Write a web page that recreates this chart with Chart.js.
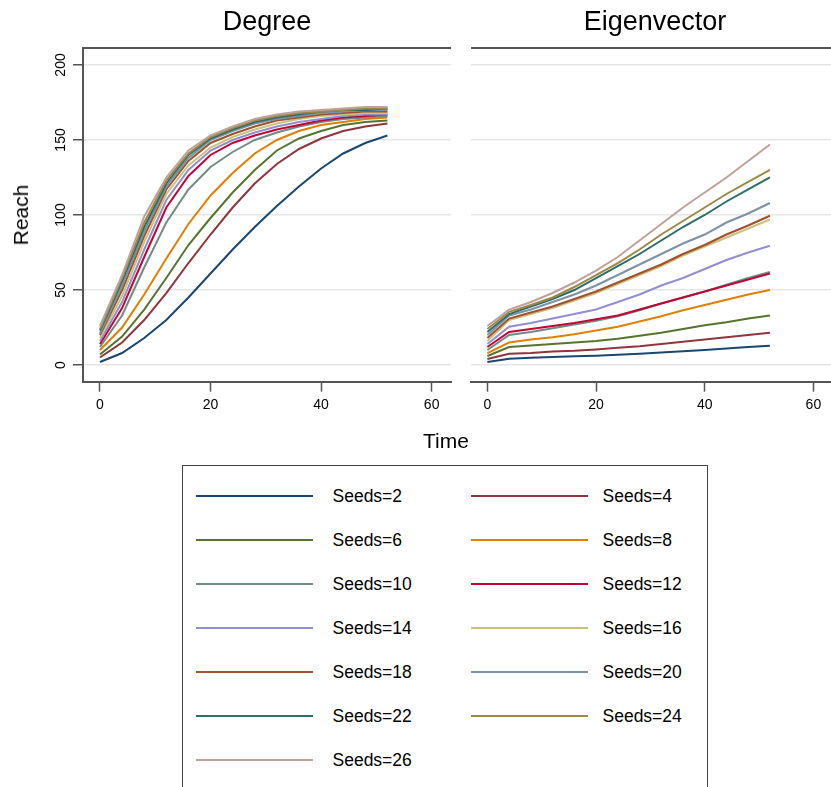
<!DOCTYPE html>
<html><head><meta charset="utf-8">
<script src="https://cdn.jsdelivr.net/npm/chart.js@4.4.0/dist/chart.umd.min.js"></script>
<style>
html,body{margin:0;padding:0;background:#fff;width:831px;height:787px;overflow:hidden;position:relative;font-family:"Liberation Sans",Arial,Helvetica,sans-serif;color:#000}
.cv{position:absolute;top:0}
.title{position:absolute;font-size:27px;line-height:27px;text-align:center;top:8px;white-space:nowrap}
.band{position:absolute;top:47px;height:2px;background:#555}
#reach{position:absolute;left:21px;top:215px;transform:translate(-50%,-50%) rotate(-90deg);font-size:21px;white-space:nowrap}
#time{position:absolute;left:446px;top:441px;transform:translate(-50%,-50%);font-size:21px}
#legend{position:absolute;left:182px;top:465px;width:526px;height:340px;border:1.5px solid #444;box-sizing:border-box;background:#fff}
.item{position:absolute;height:20px;font-size:17.5px}
.item .sw{position:absolute;top:9px;height:2px;width:117px}
.item .lb{position:absolute;top:0;line-height:20px;white-space:nowrap}
</style></head><body>
<canvas id="cL" class="cv" style="left:0" width="460" height="430"></canvas>
<canvas id="cR" class="cv" style="left:460px" width="390" height="430"></canvas>
<div class="title" style="left:83px;width:368px">Degree</div>
<div class="title" style="left:471px;width:368px">Eigenvector</div>
<div class="band" style="left:83px;width:368px"></div>
<div class="band" style="left:471px;width:368px"></div>
<div id="reach">Reach</div>
<div id="time">Time</div>
<div id="legend"></div>
<script>
const times = [0, 4, 8, 12, 16, 20, 24, 28, 32, 36, 40, 44, 48, 52];
const seeds = [2, 4, 6, 8, 10, 12, 14, 16, 18, 20, 22, 24, 26];
const xTicks = [0, 20, 40, 60];
const yTicks = [0, 50, 100, 150, 200];

// Degree panel
const deg2  = [2, 8, 18, 30, 45, 61, 77, 92, 106, 119, 131, 141, 148, 153];
const deg4  = [5, 15, 30, 48, 68, 87, 105, 121, 134, 144, 151, 156, 159, 161];
const deg6  = [7, 19, 37, 58, 80, 98, 115, 130, 143, 151, 156, 160, 162, 163];
const deg8  = [10, 25, 47, 71, 94, 113, 128, 141, 150, 156, 160, 162, 164, 165];
const deg10 = [12, 33, 65, 95, 117, 132, 142, 150, 155, 159, 162, 164, 165, 166];
const deg12 = [14, 38, 72, 105, 126, 140, 148, 153, 157, 160, 163, 165, 166, 167];
const deg14 = [16, 42, 77, 110, 130, 143, 150, 155, 159, 162, 164, 166, 167, 167];
const deg16 = [18, 46, 82, 114, 133, 145, 152, 157, 161, 164, 166, 167, 168, 168];
const deg18 = [20, 50, 86, 117, 136, 148, 154, 159, 163, 165, 167, 168, 169, 169];
const deg20 = [21, 53, 89, 119, 138, 150, 156, 161, 164, 166, 168, 169, 170, 170];
const deg22 = [23, 56, 92, 121, 140, 151, 157, 162, 165, 167, 169, 170, 170, 171];
const deg24 = [24, 58, 95, 123, 141, 152, 158, 163, 166, 168, 169, 170, 171, 171];
const deg26 = [26, 60, 99, 125, 143, 153, 159, 164, 167, 169, 170, 171, 172, 172];

// Eigenvector panel
const eig2  = [2, 4.2, 4.8, 5.3, 5.8, 6.2, 6.8, 7.5, 8.3, 9.2, 10, 11, 12, 12.8];
const eig4  = [4, 7.5, 8, 9, 9.5, 10.4, 11.5, 12.5, 14, 15.5, 17, 18.5, 20, 21.5];
const eig6  = [6, 12, 13, 14, 15, 16, 17.5, 19.5, 21.5, 24, 26.5, 28.5, 31, 33];
const eig8  = [8, 15, 17, 18.5, 20.5, 23, 25.5, 29, 32.5, 36.5, 40, 43.5, 47, 50];
const eig10 = [10, 20, 22, 24.5, 27, 29.5, 32.5, 36.5, 41, 45, 49, 53.5, 58, 62];
const eig12 = [12, 22, 24, 26, 28, 30.5, 33, 37, 41, 45, 49, 53, 57, 61];
const eig14 = [14, 25.5, 28, 31, 34, 37, 42, 47, 53, 58, 64, 70, 75, 79.5];
const eig16 = [16, 30, 34, 38, 43, 48, 54, 60, 66, 73, 79, 85, 91, 97];
const eig18 = [18, 31, 35, 39, 44, 49, 55, 61, 67, 74, 80, 87, 93, 99.5];
const eig20 = [20, 33, 37, 42, 47, 53, 60, 67, 74, 81, 87, 95, 101, 108];
const eig22 = [22, 34, 39, 44, 50, 58, 66, 74, 83, 92, 100, 109, 117, 125];
const eig24 = [24, 35.5, 40, 45, 52, 60, 68, 77, 87, 96, 105, 114, 122, 130];
const eig26 = [26, 37, 42, 48, 55, 63, 72, 83, 94, 105, 115, 125, 136, 147];

const colors = ['#1a476f', '#90353b', '#55752f', '#e37e00', '#6e8e84', '#c10534', '#938dd2',
                '#cac27e', '#a0522d', '#7b92a8', '#2d6d66', '#9c8847', '#bfa19c'];

const degreeSeries = [deg2, deg4, deg6, deg8, deg10, deg12, deg14, deg16, deg18, deg20, deg22, deg24, deg26];
const eigenSeries = [eig2, eig4, eig6, eig8, eig10, eig12, eig14, eig16, eig18, eig20, eig22, eig24, eig26];

Chart.defaults.font.family = '"Liberation Sans", Arial, Helvetica, sans-serif';
Chart.defaults.color = '#000';

function makeDatasets(series) {
  return series.map((vals, i) => ({
    label: 'Seeds=' + seeds[i],
    data: times.map((t, j) => ({ x: t, y: vals[j] })),
    borderColor: colors[i],
    backgroundColor: colors[i],
    borderWidth: 2,
    pointRadius: 0,
    tension: 0,
    fill: false,
    order: seeds.length - i
  }));
}

function makeChart(id, series, showY, pad) {
  return new Chart(document.getElementById(id), {
    type: 'line',
    data: { datasets: makeDatasets(series) },
    options: {
      responsive: false,
      animation: false,
      events: [],
      layout: { padding: pad },
      plugins: { legend: { display: false }, tooltip: { enabled: false }, title: { display: false } },
      scales: {
        x: {
          type: 'linear',
          min: -3.07,
          max: showY ? 63.5 : 66.5,
          afterBuildTicks: s => { s.ticks = xTicks.map(v => ({ value: v })); },
          afterFit: s => { s.height = 40; },
          ticks: { font: { size: 14 }, padding: 5, color: '#000', maxRotation: 0 },
          grid: { display: true, drawOnChartArea: false, drawTicks: true, tickLength: 10, tickColor: '#555', tickWidth: 1.5 },
          border: { display: true, color: '#555', width: 2 }
        },
        y: {
          type: 'linear',
          min: -11.1,
          max: 211.3,
          afterBuildTicks: s => { s.ticks = yTicks.map(v => ({ value: v })); },
          afterFit: s => { s.width = showY ? 40 : 0; },
          ticks: showY
            ? { display: true, font: { size: 14 }, padding: 0, color: '#000', minRotation: 90, maxRotation: 90, crossAlign: 'center' }
            : { display: false },
          grid: { display: true, drawOnChartArea: true, drawTicks: showY, tickLength: 10, tickColor: '#555', tickWidth: 1.5, color: '#e6e6e6', lineWidth: 1.5 },
          border: { display: showY, color: '#555', width: 2 }
        }
      }
    }
  });
}

makeChart('cL', degreeSeries, true, { left: 43, right: 9, top: 48, bottom: 8.3 });
makeChart('cR', eigenSeries, false, { left: 10.7, right: 1.3, top: 48, bottom: 8.3 });

// Legend built from the same series labels/colours
const legend = document.getElementById('legend');
const rowY = [496, 540, 584, 628, 672, 716, 760];
seeds.forEach((s, i) => {
  const col = i % 2, row = Math.floor(i / 2);
  const item = document.createElement('div');
  item.className = 'item';
  item.style.top = (rowY[row] - 10 - 466.5) + 'px';
  item.style.left = '0px';
  const sw = document.createElement('div');
  sw.className = 'sw';
  sw.style.background = colors[i];
  sw.style.left = (col === 0 ? 12.5 : 287.5) + 'px';
  const lb = document.createElement('div');
  lb.className = 'lb';
  lb.style.left = (col === 0 ? 149.5 : 419.5) + 'px';
  lb.textContent = 'Seeds=' + s;
  item.appendChild(sw); item.appendChild(lb);
  legend.appendChild(item);
});
</script>
</body></html>
